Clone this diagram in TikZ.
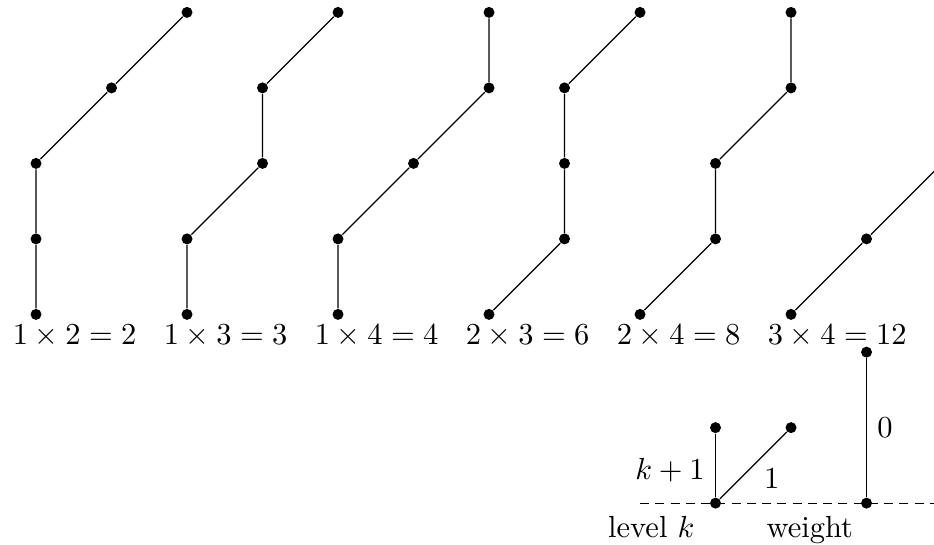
\documentclass[tikz,border=0pt]{standalone}
\begin{document}
\begin{tikzpicture}[x=0.87cm,y=0.87cm]
    \tikzset{dotnode/.style={circle,fill=black,inner sep=0pt,minimum size=3.6pt}}
    \tikzset{prodlabel/.style={anchor=north west}}

    % Fix the frame (the last path runs off the right edge)
    \useasboundingbox (-0.477,-3.05) rectangle (11.894,4.164);
    \clip (-0.477,-3.05) rectangle (11.894,4.164);

    % Path for 1 x 2 = 2
    \foreach \x [count=\j from 0] in {0,0,0,1,2}
        \node[dotnode] (a\j) at (\x,\j) {};
    \draw (a0) -- (a1) -- (a2) -- (a3) -- (a4);
    \node[prodlabel] (labA) at (-0.45,0) {$1\times 2=2$};

    % Path for 1 x 3 = 3
    \foreach \x [count=\j from 0] in {2,2,3,3,4}
        \node[dotnode] (b\j) at (\x,\j) {};
    \draw (b0) -- (b1) -- (b2) -- (b3) -- (b4);
    \node[prodlabel] (labB) at (1.55,0) {$1\times 3=3$};

    % Path for 1 x 4 = 4
    \foreach \x [count=\j from 0] in {4,4,5,6,6}
        \node[dotnode] (c\j) at (\x,\j) {};
    \draw (c0) -- (c1) -- (c2) -- (c3) -- (c4);
    \node[prodlabel] (labC) at (3.55,0) {$1\times 4=4$};

    % Path for 2 x 3 = 6
    \foreach \x [count=\j from 0] in {6,7,7,7,8}
        \node[dotnode] (d\j) at (\x,\j) {};
    \draw (d0) -- (d1) -- (d2) -- (d3) -- (d4);
    \node[prodlabel] (labD) at (5.55,0) {$2\times 3=6$};

    % Path for 2 x 4 = 8
    \foreach \x [count=\j from 0] in {8,9,9,10,10}
        \node[dotnode] (e\j) at (\x,\j) {};
    \draw (e0) -- (e1) -- (e2) -- (e3) -- (e4);
    \node[prodlabel] (labE) at (7.55,0) {$2\times 4=8$};

    % Path for 3 x 4 = 12
    \foreach \x [count=\j from 0] in {10,11,12,12,12}
        \node[dotnode] (f\j) at (\x,\j) {};
    \draw (f0) -- (f1) -- (f2) -- (f3) -- (f4);
    \node[prodlabel] (labF) at (9.55,0) {$3\times 4=12$};

    % Legend: base line
    \coordinate (baseL) at (8,-2.5);
    \coordinate (baseR) at (12.5,-2.5);
    \draw[densely dashed] (baseL) -- (baseR);

    % Legend: steps from level k
    \node[dotnode] (lvl) at (9,-2.5) {};
    \node[dotnode] (up) at (9,-1.5) {};
    \node[dotnode] (diag) at (10,-1.5) {};
    \draw (lvl) -- node[left,pos=0.42] {$k+1$} (up);
    \draw (lvl) -- node[below right,yshift=2.5pt] {$1$} (diag);

    % Legend: weight
    \node[dotnode] (wbot) at (11,-2.5) {};
    \node[dotnode] (wtop) at (11,-0.5) {};
    \draw (wbot) -- node[right] {$0$} (wtop);

    \node[anchor=base] (level) at (8.15,-2.96) {level $k$};
    \node[anchor=base] (weight) at (10.25,-2.96) {weight};

\end{tikzpicture}
\end{document}
